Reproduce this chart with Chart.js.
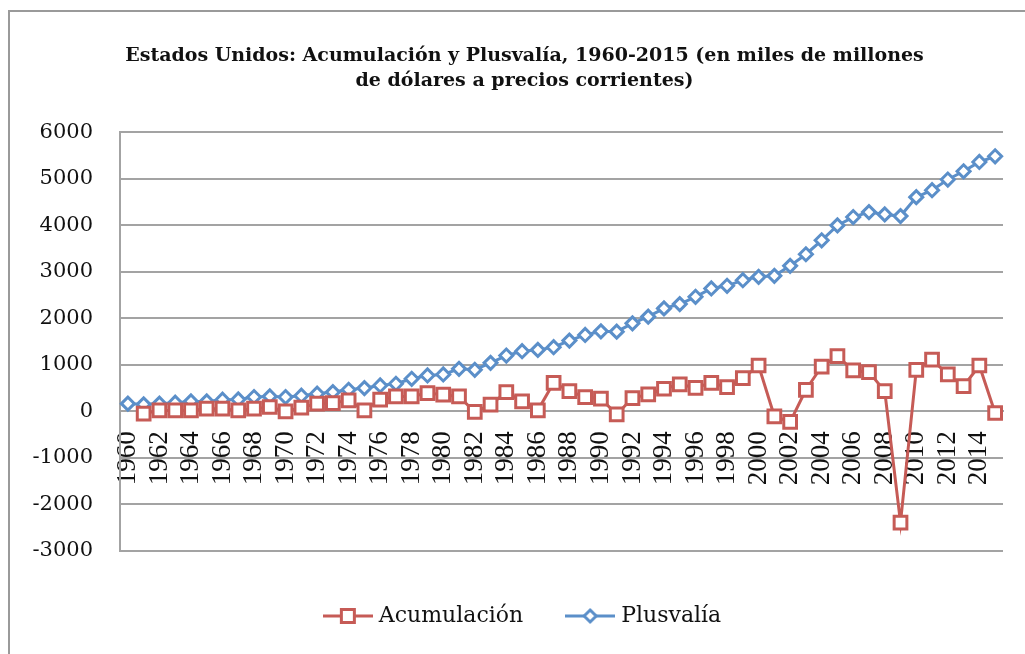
<!DOCTYPE html>
<html>
<head>
<meta charset="utf-8">
<script src="https://cdn.jsdelivr.net/npm/chart.js@4"></script>
<style>
  html, body { margin: 0; padding: 0; background: #fff; overflow: hidden; }
  #wrap { width: 1025px; height: 654px; position: relative; }
</style>
</head>
<body>
<div id="wrap"><canvas id="chart"></canvas></div>
<script>
const years = ['1960','1961','1962','1963','1964','1965','1966','1967','1968','1969',
    '1970','1971','1972','1973','1974','1975','1976','1977','1978','1979',
    '1980','1981','1982','1983','1984','1985','1986','1987','1988','1989',
    '1990','1991','1992','1993','1994','1995','1996','1997','1998','1999',
    '2000','2001','2002','2003','2004','2005','2006','2007','2008','2009',
    '2010','2011','2012','2013','2014','2015'];

// Acumulación (miles de millones de dólares)
const acumulacion = [null, -50, 20, 20, 20, 57, 57, 20, 57, 93,
    0, 79, 165, 179, 236, 21, 250, 321, 321, 393,
    357, 321, -14, 143, 414, 214, 21, 614, 436, 307,
    271, -64, 286, 364, 486, 579, 507, 614, 521, 714,
    986, -107, -229, 464, 964, 1186, 879, 843, 436, -2393,
    893, 1114, 793, 543, 986, -36];

// Plusvalía
const plusvalia = [165, 150, 165, 186, 214, 214, 250, 255, 307, 321,
    307, 336, 379, 414, 464, 500, 557, 593, 700, 771,
    793, 914, 893, 1043, 1200, 1293, 1322, 1379, 1521, 1643,
    1721, 1714, 1893, 2036, 2214, 2307, 2464, 2643, 2700, 2821,
    2893, 2914, 3129, 3379, 3679, 4000, 4179, 4286, 4236, 4200,
    4607, 4757, 4986, 5164, 5364, 5486];

const seriesNames = ['Acumulación', 'Plusvalía'];
const titleLines = ['Estados Unidos: Acumulación y Plusvalía, 1960-2015 (en miles de millones',
    'de dólares a precios corrientes)'];

const RED = '#c65b56';
const BLUE = '#5b8fc9';
const GRID = '#a3a3a3';

// legend symbol: short line with the marker in the middle
function legendSymbol(color, style) {
    const c = document.createElement('canvas');
    c.width = 50; c.height = 20;
    const g = c.getContext('2d');
    g.strokeStyle = color;
    g.lineWidth = 3;
    g.beginPath(); g.moveTo(0, 10); g.lineTo(50, 10); g.stroke();
    g.fillStyle = '#fff';
    g.beginPath();
    if (style === 'rect') {
        g.rect(18.5, 3.5, 13, 13);
    } else {
        g.moveTo(25, 4); g.lineTo(31, 10); g.lineTo(25, 16); g.lineTo(19, 10); g.closePath();
    }
    g.fill(); g.stroke();
    return c;
}

// grey frame of the chart object: left edge and top edge only
const framePlugin = {
    id: 'frame',
    beforeDraw(chart) {
        const ctx = chart.ctx;
        ctx.save();
        ctx.fillStyle = '#9a9a9a';
        ctx.fillRect(8, 10, 2, chart.height - 10);
        ctx.fillRect(8, 10, chart.width - 8, 2);
        ctx.restore();
    }
};

const ctx = document.getElementById('chart').getContext('2d');
new Chart(ctx, {
    type: 'line',
    data: {
        labels: years,
        datasets: [{
            label: seriesNames[0],
            data: acumulacion,
            borderColor: RED,
            backgroundColor: '#fff',
            borderWidth: 3,
            pointStyle: 'rect',
            pointRadius: 9,
            pointBorderWidth: 3,
            pointBackgroundColor: '#fff',
            pointBorderColor: RED,
            tension: 0
        }, {
            label: seriesNames[1],
            data: plusvalia,
            borderColor: BLUE,
            backgroundColor: '#fff',
            borderWidth: 3,
            pointStyle: 'rectRot',
            pointRadius: 6.5,
            pointBorderWidth: 3,
            pointBackgroundColor: '#fff',
            pointBorderColor: BLUE,
            tension: 0
        }]
    },
    options: {
        responsive: true,
        maintainAspectRatio: false,
        animation: false,
        layout: { padding: { left: 24, right: 0, top: 10, bottom: 17 } },
        scales: {
            x: {
                position: { y: 0 },
                offset: true,
                afterFit: (s) => { s.paddingLeft = 0; s.paddingRight = 0; },
                grid: { display: false, drawTicks: false },
                border: { display: true, color: GRID, width: 2 },
                ticks: {
                    autoSkip: false,
                    minRotation: 90,
                    maxRotation: 90,
                    padding: 20,
                    color: '#111',
                    font: { family: 'Liberation Serif', size: 27 },
                    callback: (v, i) => (i % 2 === 0 ? years[i] : '')
                }
            },
            y: {
                min: -3000,
                max: 6000,
                afterFit: (s) => { s.width = 96; },
                grid: { color: GRID, lineWidth: 2, drawTicks: false },
                border: { display: true, color: GRID, width: 2 },
                ticks: {
                    stepSize: 1000,
                    padding: 27,
                    color: '#111',
                    font: { family: 'DejaVu Serif', size: 21 },
                    callback: (v) => String(v)
                }
            },
            // empty right-hand margin so the title stays centred on the whole frame
            yRight: {
                position: 'right',
                display: false,
                afterFit: (s) => { s.width = 22; }
            }
        },
        plugins: {
            title: {
                display: true,
                text: titleLines,
                color: '#111',
                font: { family: 'DejaVu Serif', size: 19, weight: 'bold', lineHeight: 1.3 },
                padding: { top: 34, bottom: 39 }
            },
            legend: {
                position: 'bottom',
                title: { display: true, text: ' ', font: { size: 1 }, padding: 3 },
                labels: {
                    usePointStyle: true,
                    pointStyleWidth: 40,
                    padding: 47,
                    color: '#111',
                    font: { family: 'DejaVu Serif', size: 22 },
                    generateLabels: (chart) => chart.data.datasets.map((ds, i) => ({
                        text: ds.label,
                        datasetIndex: i,
                        fontColor: '#111',
                        pointStyle: legendSymbol(ds.borderColor, ds.pointStyle),
                        lineWidth: 0,
                        strokeStyle: ds.borderColor,
                        fillStyle: '#fff'
                    }))
                }
            },
            tooltip: { enabled: false }
        }
    },
    plugins: [framePlugin]
});
</script>
</body>
</html>
